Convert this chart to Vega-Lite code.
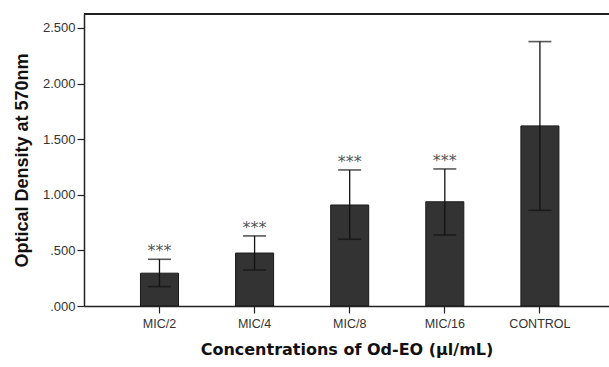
{
  "$schema": "https://vega.github.io/schema/vega-lite/v6.json",
  "width": 525,
  "height": 292,
  "autosize": {"type": "none"},
  "padding": {"left": 84, "top": 14, "right": 0, "bottom": 61},
  "background": "white",
  "config": {"view": {"stroke": null}},
  "data": {"values": [
    {"cat": "MIC/2", "mean": 0.295, "lo": 0.174, "hi": 0.42, "sig": "***"},
    {"cat": "MIC/4", "mean": 0.476, "lo": 0.324, "hi": 0.63, "sig": "***"},
    {"cat": "MIC/8", "mean": 0.908, "lo": 0.6, "hi": 1.223, "sig": "***"},
    {"cat": "MIC/16", "mean": 0.937, "lo": 0.638, "hi": 1.232, "sig": "***"},
    {"cat": "CONTROL", "mean": 1.619, "lo": 0.86, "hi": 2.377, "sig": ""}
  ]},
  "layer": [
    {
      "mark": {"type": "bar", "fill": "#333333", "stroke": "#1a1a1a", "strokeWidth": 1},
      "encoding": {
        "x": {
          "field": "cat", "type": "nominal", "sort": null,
          "scale": {"paddingInner": 0.6, "paddingOuter": 0.56, "align": 0.53},
          "axis": {
            "title": "Concentrations of Od-EO (µl/mL)",
            "titleFont": "DejaVu Sans", "titleFontSize": 16, "titleFontWeight": "bold",
            "titleColor": "#111", "titlePadding": 12,
            "labelAngle": 0, "labelFont": "Liberation Sans", "labelFontSize": 12.5,
            "labelColor": "#333", "labelPadding": 4,
            "domainColor": "#222", "domainWidth": 1.5,
            "tickColor": "#222", "tickSize": 7, "tickWidth": 1.2
          }
        },
        "y": {
          "field": "mean", "type": "quantitative",
          "scale": {"domain": [0, 2.625], "nice": false, "zero": true},
          "axis": {
            "title": "Optical Density at 570nm",
            "titleFont": "Liberation Sans", "titleFontSize": 18, "titleFontWeight": "bold",
            "titleColor": "#111", "titlePadding": 11,
            "values": [0, 0.5, 1, 1.5, 2, 2.5],
            "labelExpr": "datum.value < 1 ? substring(format(datum.value, '.3f'), 1) : format(datum.value, '.3f')",
            "labelFont": "Liberation Sans", "labelFontSize": 13, "labelColor": "#333",
            "labelPadding": 2,
            "grid": false,
            "domainColor": "#222", "domainWidth": 1.5,
            "tickColor": "#222", "tickSize": 7, "tickWidth": 1.2
          }
        }
      }
    },
    {
      "mark": {"type": "rule", "color": "#111", "strokeWidth": 1.3},
      "encoding": {
        "x": {"field": "cat", "type": "nominal", "sort": null},
        "y": {"field": "lo", "type": "quantitative"},
        "y2": {"field": "hi"}
      }
    },
    {
      "mark": {"type": "tick", "color": "#111", "size": 23, "thickness": 1.6},
      "encoding": {
        "x": {"field": "cat", "type": "nominal", "sort": null},
        "y": {"field": "hi", "type": "quantitative"}
      }
    },
    {
      "mark": {"type": "tick", "color": "#111", "size": 23, "thickness": 1.6},
      "encoding": {
        "x": {"field": "cat", "type": "nominal", "sort": null},
        "y": {"field": "lo", "type": "quantitative"}
      }
    },
    {
      "mark": {"type": "text", "dy": -8, "font": "DejaVu Sans", "fontSize": 16, "color": "#555", "baseline": "middle"},
      "encoding": {
        "x": {"field": "cat", "type": "nominal", "sort": null},
        "y": {"field": "hi", "type": "quantitative"},
        "text": {"field": "sig"}
      }
    },
    {
      "mark": {"type": "rule", "color": "#222", "strokeWidth": 1.5},
      "encoding": {"y": {"datum": 2.625}}
    }
  ]
}
